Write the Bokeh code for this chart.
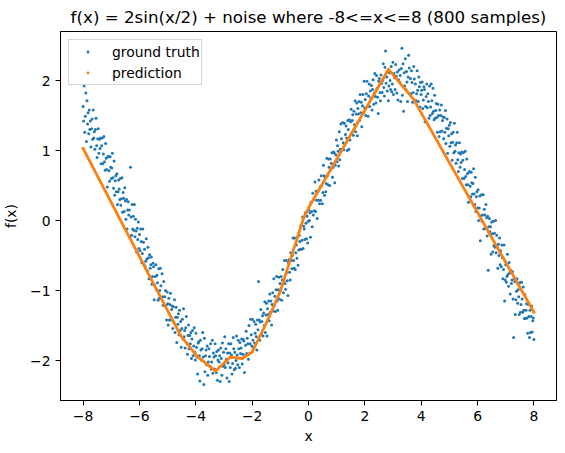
import numpy as np
from bokeh.plotting import figure
from bokeh.models import Range1d, FixedTicker, Legend, LegendItem
from bokeh.embed import file_html
from bokeh.resources import INLINE

BLUE = "#1f77b4"
ORANGE = "#ff7f0e"
FONT = "DejaVu Sans"

title_text = "f(x) = 2sin(x/2) + noise where -8<=x<=8 (800 samples)"

# 800 evenly spaced samples on [-8, 8]
x_lo, x_hi, n_samples = -8, 8, 800

# noisy targets (10 samples per row)
truth_y = [
    1.63, 1.42, 1.92, 1.26, 1.49, 1.82, 1.13, 1.71, 1.38, 1.54,
    1.24, 1.58, 1.30, 1.42, 1.05, 1.31, 1.45, 1.16, 1.58, 1.18,
    1.27, 1.02, 1.30, 1.46, 1.07, 0.90, 1.17, 1.31, 0.96, 1.16,
    1.03, 1.18, 0.81, 1.07, 1.18, 0.81, 0.95, 1.20, 0.84, 0.72,
    1.10, 0.89, 0.73, 0.48, 0.91, 0.92, 0.71, 0.56, 0.91, 0.76,
    0.60, 0.75, 0.96, 0.61, 0.46, 0.85, 0.36, 0.57, 0.64, 0.41,
    0.67, 0.23, 0.41, 0.58, 0.45, 0.30, 0.60, 0.22, 0.31, 0.61,
    0.12, 0.40, 0.32, 0.13, 0.47, 0.28, 0.02, 0.30, -0.12, 0.15,
    0.27, 0.08, 0.15, -0.24, 0.76, 0.05, -0.21, 0.23, -0.12, 0.06,
    -0.14, 0.23, -0.23, 0.02, -0.15, -0.45, -0.11, -0.27, -0.02, -0.40,
    -0.20, -0.43, -0.12, -0.30, -0.60, -0.47, -0.12, -0.31, -0.63, -0.41,
    -0.66, -0.58, -0.26, -0.55, -0.72, -0.38, -0.53, -0.83, -0.49, -0.68,
    -0.63, -0.52, -0.91, -0.80, -0.61, -0.66, -1.13, -0.92, -0.80, -0.63,
    -0.98, -0.78, -0.89, -1.14, -0.69, -1.11, -1.00, -0.68, -0.93, -1.11,
    -0.76, -1.09, -1.21, -0.87, -1.21, -1.09, -1.00, -1.21, -1.42, -1.02,
    -1.19, -1.49, -1.11, -1.42, -1.20, -1.04, -1.42, -1.27, -1.22, -1.54,
    -1.23, -1.45, -1.13, -1.60, -1.38, -1.24, -1.74, -1.38, -1.48, -1.33,
    -1.63, -1.28, -1.57, -1.44, -1.81, -1.54, -1.41, -1.69, -1.26, -1.66,
    -1.57, -1.82, -1.53, -1.37, -1.75, -1.91, -1.64, -1.49, -1.83, -1.64,
    -1.76, -1.60, -1.97, -1.69, -1.57, -1.93, -1.79, -1.53, -1.88, -1.99,
    -1.61, -1.81, -1.95, -2.19, -1.75, -1.73, -1.93, -2.29, -1.71, -1.85,
    -1.99, -1.83, -1.60, -1.95, -2.34, -1.68, -2.16, -1.93, -1.85, -2.06,
    -1.79, -2.21, -2.02, -1.83, -1.94, -2.08, -1.76, -2.12, -2.02, -1.71,
    -2.18, -1.89, -1.95, -2.12, -1.76, -1.93, -2.17, -1.87, -2.28, -1.99,
    -1.85, -2.02, -1.93, -2.30, -1.82, -1.97, -2.21, -1.75, -2.08, -1.88,
    -2.06, -1.66, -2.10, -1.83, -1.98, -2.25, -1.89, -2.03, -1.76, -2.30,
    -1.89, -2.10, -1.76, -1.92, -2.19, -2.04, -1.67, -1.83, -2.13, -1.88,
    -2.11, -2.00, -1.65, -1.92, -2.06, -1.71, -1.83, -2.10, -1.74, -1.90,
    -1.82, -1.69, -2.05, -1.91, -1.70, -1.72, -2.17, -1.93, -1.78, -1.58,
    -1.90, -1.68, -1.76, -1.98, -1.50, -1.90, -1.76, -1.41, -1.63, -1.79,
    -1.41, -1.71, -1.81, -1.44, -1.75, -1.61, -1.48, -1.66, -1.85, -1.42,
    -1.56, -0.87, -1.42, -1.71, -1.45, -1.27, -1.62, -1.44, -1.36, -1.65,
    -1.32, -1.50, -1.16, -1.60, -1.35, -1.18, -1.65, -1.26, -1.34, -1.15,
    -1.43, -1.05, -1.31, -1.15, -1.49, -1.20, -1.03, -1.29, -0.83, -1.21,
    -1.08, -1.30, -0.99, -0.80, -1.15, -1.28, -0.99, -0.81, -1.12, -0.90,
    -0.99, -0.80, -1.14, -0.85, -0.70, -1.03, -0.86, -0.57, -0.90, -0.98,
    -0.57, -0.74, -0.86, -1.07, -0.60, -0.56, -0.74, -0.85, -0.46, -0.57,
    -0.69, -0.50, -0.25, -0.57, -0.68, -0.25, -0.70, -0.46, -0.35, -0.54,
    -0.24, -0.64, -0.42, -0.21, -0.30, -0.41, -0.07, -0.41, -0.28, 0.05,
    -0.40, -0.08, -0.12, -0.27, 0.11, -0.04, -0.26, 0.06, -0.32, -0.01,
    0.15, 0.00, 0.11, -0.24, 0.26, 0.13, -0.09, 0.39, 0.08, 0.30,
    0.14, 0.55, 0.13, 0.42, 0.29, 0.03, 0.41, 0.29, 0.58, 0.24,
    0.48, 0.29, 0.64, 0.50, 0.24, 0.40, 0.79, 0.64, 0.36, 0.62,
    0.41, 0.53, 0.89, 0.64, 0.51, 0.88, 0.76, 0.50, 0.88, 0.73,
    0.82, 0.97, 0.62, 0.76, 0.98, 0.97, 0.54, 0.79, 0.94, 1.15,
    0.84, 1.07, 0.99, 0.78, 1.27, 0.87, 1.02, 1.38, 1.17, 1.01,
    1.40, 1.11, 1.01, 1.39, 1.08, 1.23, 1.35, 1.18, 1.00, 1.43,
    1.30, 1.02, 1.44, 1.15, 1.41, 1.59, 1.25, 1.43, 1.51, 1.22,
    1.56, 1.37, 1.71, 1.27, 1.52, 1.68, 1.21, 1.60, 1.52, 1.70,
    1.43, 1.80, 1.54, 1.69, 1.34, 1.64, 1.80, 1.54, 1.99, 1.61,
    1.73, 1.50, 1.81, 1.99, 1.63, 1.49, 1.78, 1.95, 1.63, 1.85,
    1.75, 1.93, 1.58, 1.87, 2.01, 1.66, 1.82, 2.10, 1.77, 1.68,
    2.07, 1.89, 1.76, 1.53, 1.99, 2.03, 1.83, 1.71, 2.08, 1.96,
    1.83, 2.00, 2.24, 1.90, 1.78, 2.19, 2.42, 1.96, 2.05, 1.85,
    2.13, 1.71, 1.92, 2.11, 2.00, 1.87, 2.20, 1.84, 1.95, 2.26,
    1.80, 2.10, 2.04, 1.87, 2.23, 2.06, 1.82, 2.12, 1.72, 2.01,
    2.15, 1.98, 2.07, 1.70, 2.17, 2.46, 1.79, 2.24, 1.56, 2.11,
    1.92, 2.31, 1.87, 2.13, 1.98, 1.70, 2.05, 2.36, 2.18, 1.81,
    2.03, 1.81, 2.14, 1.97, 1.69, 1.83, 2.20, 2.02, 1.71, 1.95,
    1.71, 1.81, 2.14, 1.86, 1.70, 2.05, 1.91, 1.62, 1.97, 1.80,
    1.86, 1.98, 1.60, 1.72, 1.91, 1.87, 1.41, 1.63, 1.77, 1.95,
    1.61, 1.81, 1.70, 1.46, 1.92, 1.50, 1.62, 1.95, 1.71, 1.53,
    1.89, 1.56, 1.44, 1.79, 1.46, 1.57, 1.67, 1.47, 1.26, 1.66,
    1.50, 1.20, 1.58, 1.27, 1.50, 1.65, 1.28, 1.43, 1.48, 1.17,
    1.47, 1.26, 1.57, 1.10, 1.32, 1.45, 0.96, 1.31, 1.21, 1.36,
    1.06, 1.40, 1.11, 1.24, 0.86, 1.12, 1.26, 0.97, 1.39, 0.99,
    1.08, 0.82, 1.11, 1.26, 0.87, 0.70, 0.97, 1.11, 0.76, 0.95,
    0.83, 0.98, 0.60, 0.86, 0.97, 0.60, 0.73, 0.99, 0.63, 0.51,
    0.88, 0.67, 0.51, 0.26, 0.69, 0.70, 0.49, 0.34, 0.69, 0.54,
    0.38, 0.53, 0.74, 0.38, 0.23, 0.62, 0.13, 0.34, 0.41, 0.18,
    0.44, 0.00, 0.18, 0.35, -0.29, 0.07, 0.37, -0.01, 0.08, 0.37,
    -0.12, 0.16, 0.08, -0.11, 0.23, 0.04, -0.22, 0.06, -0.71, -0.09,
    0.03, -0.16, -0.09, -0.48, -0.02, -0.19, -0.45, -0.01, -0.36, -0.18,
    -0.38, 0.00, -0.46, -0.21, -0.38, -0.68, -0.34, -0.50, -0.25, -0.63,
    -0.43, -0.66, -0.35, -0.53, -0.83, -0.70, -0.35, -1.15, -0.85, -0.63,
    -0.88, -0.80, -0.48, -0.77, -0.94, -0.60, -0.75, -1.05, -0.71, -0.90,
    -0.85, -0.73, -1.12, -1.67, -0.83, -0.87, -1.34, -1.13, -1.01, -0.83,
    -1.18, -0.99, -1.09, -1.34, -0.89, -1.31, -1.20, -0.88, -1.12, -1.31,
    -0.95, -1.28, -1.40, -1.06, -1.40, -1.28, -1.19, -1.39, -1.61, -1.20,
    -1.37, -1.67, -1.28, -1.60, -1.37, -1.22, -1.59, -1.43, -1.39, -1.70,
]

# piecewise-linear model output: its corner points
pred_knot_x = [-8.0, -4.54, -3.95, -3.30, -2.77, -2.35, -2.0, -1.47, -1.0,
               -0.17, 0.07, 2.84, 3.73, 8.0]
pred_knot_y = [1.03, -1.64, -1.94, -2.15, -1.95, -1.97, -1.88, -1.44, -1.01,
               0.04, 0.23, 2.16, 1.73, -1.31]

x_ticks = [-8, -6, -4, -2, 0, 2, 4, 6, 8]
x_tick_labels = ["\u22128", "\u22126", "\u22124", "\u22122", "0", "2", "4", "6", "8"]
y_ticks = [-2, -1, 0, 1, 2]
y_tick_labels = ["\u22122", "\u22121", "0", "1", "2"]

sample_x = np.linspace(x_lo, x_hi, n_samples)

p = figure(
    frame_width=496,
    frame_height=369,
    x_range=Range1d(-8.8, 8.8),
    y_range=Range1d(-2.57, 2.70),
    title=title_text,
    toolbar_location=None,
    output_backend="svg",
    min_border_left=56,
    min_border_right=1,
    min_border_top=27,
    min_border_bottom=40,
)
p.background_fill_color = "white"
p.border_fill_color = "white"
p.outline_line_color = "black"
p.outline_line_width = 1
p.outline_line_alpha = 1
p.grid.grid_line_color = None

p.title.align = "center"
p.title.text_font = FONT
p.title.text_font_size = "16.7px"
p.title.text_font_style = "normal"
p.title.text_color = "black"
p.title.standoff = 9

p.xaxis.ticker = FixedTicker(ticks=x_ticks)
p.xaxis.major_label_overrides = dict(zip(x_ticks, x_tick_labels))
p.yaxis.ticker = FixedTicker(ticks=y_ticks)
p.yaxis.major_label_overrides = dict(zip(y_ticks, y_tick_labels))
p.xaxis.axis_label = "x"
p.yaxis.axis_label = "f(x)"
for ax in (p.xaxis, p.yaxis):
    ax.axis_line_color = "black"
    ax.major_tick_line_color = "black"
    ax.major_tick_in = 0
    ax.major_tick_out = 5
    ax.minor_tick_line_color = None
    ax.major_label_text_font = FONT
    ax.major_label_text_font_size = "13.9px"
    ax.major_label_text_color = "black"
    ax.major_label_standoff = 5
    ax.axis_label_text_font = FONT
    ax.axis_label_text_font_size = "13.9px"
    ax.axis_label_text_font_style = "normal"
    ax.axis_label_text_color = "black"
    ax.axis_label_standoff = 6
p.xaxis.axis_label_standoff = 4
p.yaxis.axis_label_standoff = 8

gt = p.scatter(sample_x, truth_y, size=3, fill_color=BLUE, line_color=None)
p.line(pred_knot_x, pred_knot_y, line_color=ORANGE, line_width=2.8,
       line_join="round", line_cap="round")
pk = p.scatter(pred_knot_x, pred_knot_y, size=2.8, fill_color=ORANGE, line_color=None)

legend = Legend(
    items=[LegendItem(label="ground truth", renderers=[gt]),
           LegendItem(label="prediction", renderers=[pk])],
    location="top_left",
)
legend.margin = 8
legend.padding = 1
legend.spacing = 0
legend.label_height = 21
legend.glyph_height = 7
legend.glyph_width = 35
legend.label_standoff = 7
legend.label_text_font = FONT
legend.label_text_font_size = "13.9px"
legend.label_text_color = "black"
legend.border_line_color = "#cccccc"
legend.border_line_alpha = 0.8
legend.background_fill_color = "white"
legend.background_fill_alpha = 0.8
p.add_layout(legend)

open("out.html", "w").write(file_html(p, INLINE))
